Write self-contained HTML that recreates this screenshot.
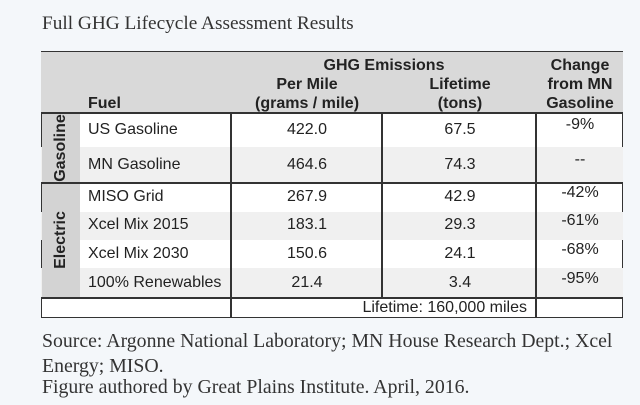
<!DOCTYPE html>
<html><head><style>
body{margin:0;width:640px;height:405px;background:#f4f7fa;position:relative;overflow:hidden}
.s{position:absolute;font-family:"Liberation Serif",serif;color:#333;font-size:19.8px;white-space:nowrap}
.t{position:absolute;font-family:"Liberation Sans",sans-serif;color:#222;font-size:16px;white-space:nowrap;transform:translate(-50%,-50%)}
.l{transform:translate(0,-50%)}
.b{font-weight:bold}
.r{position:absolute;left:41px;width:582px}
.v{position:absolute;width:1.5px;background:#333}
.h{position:absolute;height:1.5px;background:#333}
</style></head><body>
<div class="s" style="left:42px;top:13px;font-size:19.3px">Full GHG Lifecycle Assessment Results</div>
<div style="position:absolute;left:41px;top:51px;width:580px;height:265px;border:1.5px solid #333;background:#fff"></div>
<div class="r" style="top:52px;height:61px;background:#d9d9d9"></div>
<div class="r" style="top:147px;height:36px;background:#f0f0f0"></div>
<div class="r" style="top:212px;height:28px;background:#f0f0f0"></div>
<div class="r" style="top:268px;height:30px;background:#f0f0f0"></div>
<div style="position:absolute;left:42px;top:113px;width:38px;height:185px;background:#d3d3d3"></div>
<div class="h" style="left:41px;width:582px;top:112px"></div>
<div class="h" style="left:41px;width:582px;top:182px"></div>
<div class="h" style="left:41px;width:582px;top:297px"></div>
<div class="v" style="left:230px;top:113px;height:204px"></div>
<div class="v" style="left:381px;top:113px;height:185px"></div>
<div class="v" style="left:535px;top:113px;height:204px"></div>
<div class="t b" style="left:384px;top:66px">GHG Emissions</div>
<div class="t b" style="left:307px;top:85px">Per Mile</div>
<div class="t b" style="left:307px;top:104px">(grams / mile)</div>
<div class="t b" style="left:460px;top:85px">Lifetime</div>
<div class="t b" style="left:460px;top:104px">(tons)</div>
<div class="t b" style="left:580px;top:66px">Change</div>
<div class="t b" style="left:580px;top:85px">from MN</div>
<div class="t b" style="left:580px;top:104px">Gasoline</div>
<div class="t b l" style="left:88px;top:104px">Fuel</div>
<div class="t b" style="left:61px;top:148px;transform:translate(-50%,-50%) rotate(-90deg)">Gasoline</div>
<div class="t b" style="left:61px;top:240px;transform:translate(-50%,-50%) rotate(-90deg)">Electric</div>
<div class="t l" style="left:88px;top:130px">US Gasoline</div>
<div class="t" style="left:307px;top:130px">422.0</div>
<div class="t" style="left:460px;top:130px">67.5</div>
<div class="t" style="left:580px;top:125px">-9%</div>
<div class="t l" style="left:88px;top:165px">MN Gasoline</div>
<div class="t" style="left:307px;top:165px">464.6</div>
<div class="t" style="left:460px;top:165px">74.3</div>
<div class="t" style="left:580px;top:160px">--</div>
<div class="t l" style="left:88px;top:197px">MISO Grid</div>
<div class="t" style="left:307px;top:197px">267.9</div>
<div class="t" style="left:460px;top:197px">42.9</div>
<div class="t" style="left:580px;top:193px">-42%</div>
<div class="t l" style="left:88px;top:225px">Xcel Mix 2015</div>
<div class="t" style="left:307px;top:225px">183.1</div>
<div class="t" style="left:460px;top:225px">29.3</div>
<div class="t" style="left:580px;top:221px">-61%</div>
<div class="t l" style="left:88px;top:254px">Xcel Mix 2030</div>
<div class="t" style="left:307px;top:254px">150.6</div>
<div class="t" style="left:460px;top:254px">24.1</div>
<div class="t" style="left:580px;top:250px">-68%</div>
<div class="t l" style="left:88px;top:283px">100% Renewables</div>
<div class="t" style="left:307px;top:283px">21.4</div>
<div class="t" style="left:460px;top:283px">3.4</div>
<div class="t" style="left:580px;top:279px">-95%</div>
<div class="t" style="left:527px;top:308px;transform:translate(-100%,-50%)">Lifetime: 160,000 miles</div>
<div class="s" style="left:42px;top:330px">Source: Argonne National Laboratory; MN House Research Dept.; Xcel</div>
<div class="s" style="left:42px;top:355px">Energy; MISO.</div>
<div class="s" style="left:42px;top:376px">Figure authored by Great Plains Institute. April, 2016.</div>
</body></html>
